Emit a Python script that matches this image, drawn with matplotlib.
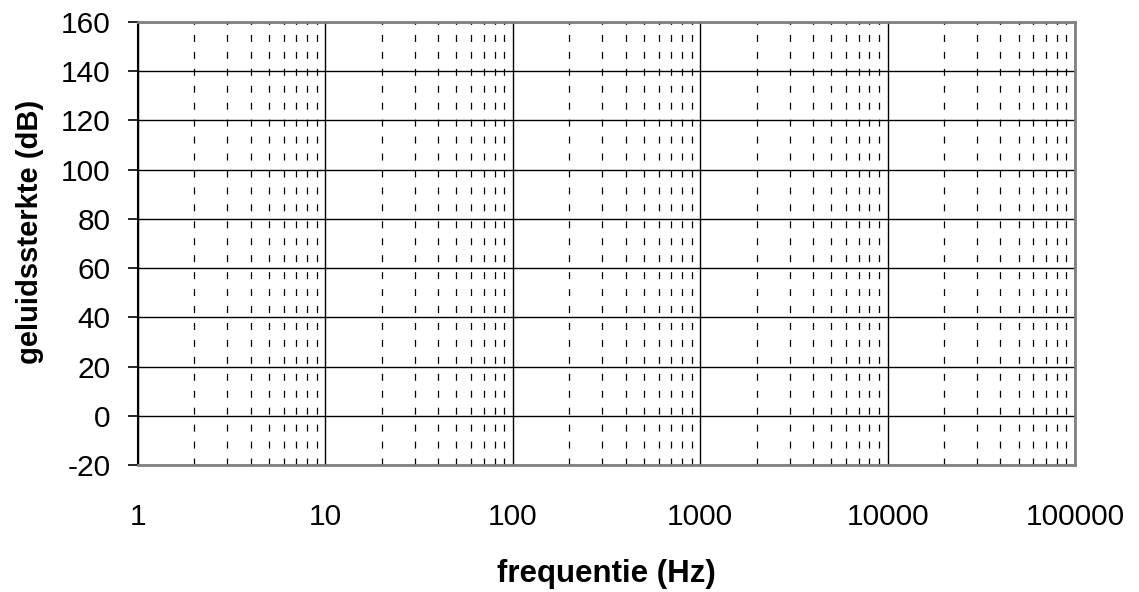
import matplotlib.pyplot as plt
import matplotlib.ticker as mticker

plt.rcParams['font.family'] = ['Liberation Sans', 'DejaVu Sans']
plt.rcParams['lines.scale_dashes'] = False
plt.rcParams['axes.unicode_minus'] = False

# axis ranges and ticks
x_decades = [1, 10, 100, 1000, 10000, 100000]
x_labels = ["1", "10", "100", "1000", "10000", "100000"]
y_ticks = [-20, 0, 20, 40, 60, 80, 100, 120, 140, 160]

fig = plt.figure(figsize=(11.39, 5.92), dpi=100)
ax = fig.add_axes([0.1212, 0.2145, 0.8226, 0.7483])

ax.set_xscale('log')
ax.set_xlim(x_decades[0], x_decades[-1])
ax.set_ylim(y_ticks[0], y_ticks[-1])
ax.set_xticks(x_decades)
ax.set_xticklabels(x_labels)
ax.xaxis.set_minor_locator(mticker.LogLocator(base=10, subs=range(2, 10), numticks=20))
ax.xaxis.set_minor_formatter(mticker.NullFormatter())
ax.set_yticks(y_ticks)

ax.grid(True, which='major', color='black', linewidth=1.0, linestyle='-')
ax.grid(True, which='minor', axis='x', color='black', linewidth=0.9, dashes=(5, 7.2))
ax.set_axisbelow(True)

ax.tick_params(axis='x', which='both', length=0, pad=27.5, labelsize=21.5)
ax.tick_params(axis='y', which='both', length=7, width=1.2, pad=13, labelsize=21.5, direction='out')

for side in ['top', 'right', 'bottom']:
    ax.spines[side].set_color('#808080')
    ax.spines[side].set_linewidth(2)
ax.spines['left'].set_color('black')
ax.spines['left'].set_linewidth(1.5)

ax.set_xlabel("frequentie (Hz)", fontsize=22.5, fontweight='bold', va='center')
ax.xaxis.set_label_coords(0.5, -0.245)
ax.set_ylabel("geluidssterkte (dB)", fontsize=21, fontweight='bold', va='center')
ax.yaxis.set_label_coords(-0.1153, 0.526)

fig.savefig("out.png", dpi=100)
